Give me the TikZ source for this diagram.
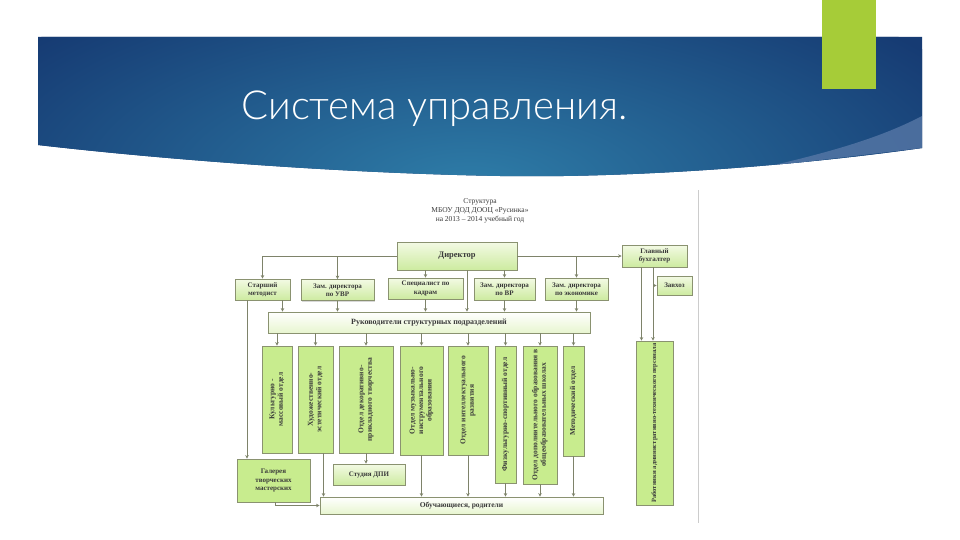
\documentclass[tikz,border=0pt]{standalone}
\usepackage{fontspec}
\setmainfont{Liberation Serif}
\newfontfamily\titlefont{Lato Light}
\usepackage{tikz}
\usetikzlibrary{arrows.meta,shadows,calc}
\definecolor{bannerdark}{HTML}{163B73}
\definecolor{bannerlight}{HTML}{2E7DA8}
\definecolor{wedgeblue}{HTML}{5677A6}
\definecolor{limebar}{HTML}{A6CC38}
\definecolor{boxline}{HTML}{8A9270}
\definecolor{arrowgray}{HTML}{7E836A}
\definecolor{boxtop}{HTML}{F3FAE4}
\definecolor{boxbottom}{HTML}{CDEBA0}
\definecolor{vfill}{HTML}{C8EC8E}
\definecolor{inktext}{HTML}{3A3A3A}
\tikzset{
  topbox/.style={draw=boxline, line width=0.8pt, top color=boxtop, bottom color=boxbottom,
    text=inktext, font=\fontsize{7}{8.5}\selectfont\bfseries, align=center, inner sep=1pt,
    drop shadow={shadow xshift=1pt, shadow yshift=-1pt, opacity=0.3}},
  barbox/.style={topbox, top color=white, bottom color=boxtop!70!boxbottom,
    font=\fontsize{8}{9}\selectfont\bfseries},
  vbox/.style={draw=boxline, line width=0.8pt, fill=vfill, text=inktext,
    font=\fontsize{7.5}{8.5}\selectfont\bfseries, inner sep=1pt,
    drop shadow={shadow xshift=1pt, shadow yshift=-1pt, opacity=0.3}},
  arr/.style={-{Stealth[length=3.5pt,width=3.5pt]}, draw=arrowgray, line width=0.8pt},
  header/.style={text=inktext, font=\fontsize{7.5}{9}\selectfont, align=center}
}
\newcommand{\vtext}[1]{\rotatebox{90}{\begin{tabular}{@{}c@{}}#1\end{tabular}}}

\begin{document}
\begin{tikzpicture}[x=1pt,y=-1pt]
  \useasboundingbox[fill=white] (0,0) rectangle (960,540);

  % banner
  \path[fill=bannerdark] (38,37) -- (922,37) -- (922,148)
    .. controls (780,168) and (620,178) .. (500,176)
    .. controls (330,173) and (150,158) .. (38,145) -- cycle;
  \begin{scope}
    \clip (38,37) -- (922,37) -- (922,148)
      .. controls (780,168) and (620,178) .. (500,176)
      .. controls (330,173) and (150,158) .. (38,145) -- cycle;
    \shade[inner color=bannerlight, outer color=bannerdark] (470,185) ellipse [x radius=560, y radius=230];
    \fill[wedgeblue, opacity=0.8] (922,116) .. controls (880,138) and (830,152) .. (770,166)
      -- (922,148) -- cycle;
  \end{scope}
  \fill[limebar] (822,0) rectangle (876,89);
  \node[anchor=base west, text=white, font=\titlefont\fontsize{40}{44}\selectfont] (title) at (238,120) {Система управления.};

  % chart
  \draw[gray!40, line width=0.8pt] (698,190) -- (698,523);
  \node[header] (head) at (480,211) {Структура\\МБОУ ДОД ДООЦ «Русинка»\\на 2013 -- 2014 учебный год};

  \node[topbox, minimum width=120, minimum height=28, font=\fontsize{8.5}{10}\selectfont\bfseries] (dir) at (457,256) {Директор};
  \node[topbox, minimum width=65, minimum height=22] (glav) at (654.5,256) {Главный\\бухгалтер};
  \node[topbox, minimum width=35, minimum height=19] (zavhoz) at (674.5,285.5) {Завхоз};
  \node[topbox, minimum width=55, minimum height=21] (stm) at (262.5,289.5) {Старший\\методист};
  \node[topbox, minimum width=73, minimum height=21] (uvr) at (337.5,290) {Зам. директора\\по УВР};
  \node[topbox, minimum width=75, minimum height=21] (kadr) at (425.5,288.5) {Специалист по\\кадрам};
  \node[topbox, minimum width=61, minimum height=22] (vr) at (504.5,289) {Зам. директора\\по ВР};
  \node[topbox, minimum width=63, minimum height=22] (econ) at (576.5,289) {Зам. директора\\по экономике};
  \node[barbox, minimum width=322, minimum height=21] (ruk) at (429,322.5) {Руководители структурных подразделений};

  \node[vbox, minimum width=30, minimum height=107] (v1) at (277,399.5) {\vtext{Культурно -\\массовый отдел}};
  \node[vbox, minimum width=35, minimum height=107] (v2) at (315.5,399.5) {\vtext{Художественно-\\эстетический отдел}};
  \node[vbox, minimum width=54, minimum height=107] (v3) at (366,399.5) {\vtext{Отдел декоративно-\\прикладного творчества}};
  \node[vbox, minimum width=43, minimum height=109] (v4) at (421.5,400.5) {\vtext{Отдел музыкально-\\инструментального\\образования}};
  \node[vbox, minimum width=40, minimum height=109] (v5) at (468,400.5) {\vtext{Отдел интеллектуального\\развития}};
  \node[vbox, minimum width=21, minimum height=137] (v6) at (505.5,414.5) {\vtext{Физкультурно-спортивный отдел}};
  \node[vbox, minimum width=34, minimum height=138] (v7) at (540,415) {\vtext{Отдел дополнительного образования в\\общеобразовательных школах}};
  \node[vbox, minimum width=21, minimum height=110] (v8) at (573.5,401) {\vtext{Методический отдел}};
  \node[vbox, minimum width=37, minimum height=164, font=\fontsize{6.5}{7.5}\selectfont\bfseries] (rab) at (654.5,423) {\vtext{Работники административно-технического персонала}};

  \node[vbox, align=center, font=\fontsize{7}{8.5}\selectfont\bfseries, minimum width=73, minimum height=43] (gal) at (273.5,480.5) {Галерея\\творческих\\мастерских};
  \node[topbox, minimum width=72, minimum height=21] (stud) at (369,474.5) {Студия ДПИ};
  \node[barbox, minimum width=283, minimum height=17, font=\fontsize{7.5}{9}\selectfont\bfseries] (obuch) at (461.5,505.5) {Обучающиеся, родители};

  % director links
  \draw[arr] (dir.west) -| (stm.north);
  \draw[arr] (dir.west -| uvr.north) -- (uvr.north);
  \draw[arr] (dir.south -| kadr.north) -- (kadr.north);
  \draw[arr] (dir.south -| vr.north) -- (vr.north);
  \draw[arr] (dir.east) -- (glav.west);
  \draw[arr] (dir.east -| econ.north) -- (econ.north);
  \draw[arr] ([xshift=10pt]dir.south) -- ([xshift=10pt]dir.south |- ruk.north);

  % deputies to heads
  \draw[arr] ([xshift=20pt]stm.south) -- ([xshift=20pt]stm.south |- ruk.north);
  \foreach \n in {uvr,kadr,vr,econ}
    \draw[arr] (\n.south) -- (\n.south |- ruk.north);

  % heads to departments
  \foreach \n in {v1,v2,v3,v4,v5,v6,v7,v8}
    \draw[arr] (\n.north |- ruk.south) -- (\n.north);

  % accountant side
  \draw[arr] ([xshift=-13pt]glav.south) -- ([xshift=-13pt]glav.south |- rab.north);
  \draw[arr] ([xshift=-1.5pt]glav.south) -- ([xshift=-1.5pt]glav.south |- rab.north);
  \draw[arr] ([xshift=-1.5pt]glav.south |- zavhoz.west) -- (zavhoz.west);

  % bottom row
  \draw[arr] ([xshift=-15.5pt]stm.south) -- ([xshift=-15.5pt]stm.south |- gal.north);
  \draw[arr] (v3.south) -- (v3.south |- stud.north);
  \draw[arr] ([xshift=8pt]v2.south) -- ([xshift=8pt]v2.south |- obuch.north);
  \draw[arr] ([xshift=1.5pt]gal.south) |- (obuch.west);
  \foreach \n in {v4,v5,v6,v7,v8}
    \draw[arr] (\n.south) -- (\n.south |- obuch.north);
\end{tikzpicture}
\end{document}
